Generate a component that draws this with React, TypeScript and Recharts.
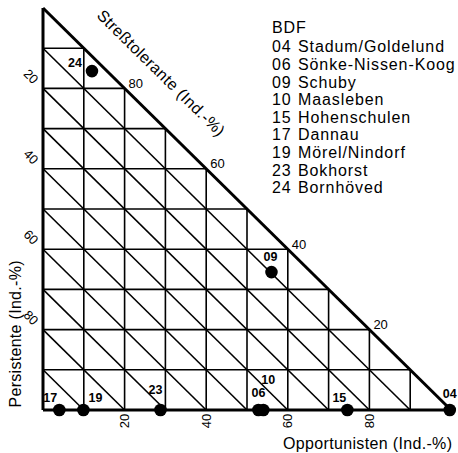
import React from 'react'
import { ScatterChart, Scatter, XAxis, YAxis, ReferenceLine, ReferenceDot } from 'recharts'

// Dreiecksdiagramm: x = Opportunisten, y = Streßtolerante, Rest = Persistente
const gridSteps = [10, 20, 30, 40, 50, 60, 70, 80, 90]
const opportunistTicks = [20, 40, 60, 80]
const persistentTicks = [20, 40, 60, 80]
const stressTicks = [80, 60, 40, 20]

const siteIds = ['04', '06', '09', '10', '15', '17', '19', '23', '24']
const siteNames = [
  'Stadum/Goldelund',
  'Sönke-Nissen-Koog',
  'Schuby',
  'Maasleben',
  'Hohenschulen',
  'Dannau',
  'Mörel/Nindorf',
  'Bokhorst',
  'Bornhöved',
]
const opportunisten = [99.7, 52.8, 56, 54, 74.6, 4, 9.9, 28.8, 12]
const stresstolerante = [0, 0, 34.3, 0, 0, 0, 0, 0, 84.3]

// where each site number sits relative to its dot
const labelOffsets: Record<string, [number, number]> = {
  '04': [0, -16],
  '06': [0, -17],
  '09': [-1, -15],
  '10': [5, -30],
  '15': [-8, -12],
  '17': [-9, -12],
  '19': [12, -12],
  '23': [-5, -20],
  '24': [-17, -8],
}

const points = siteIds.map((id, i) => ({
  id,
  opp: opportunisten[i],
  stress: stresstolerante[i],
}))

const FONT = '"Liberation Sans", Arial, Helvetica, sans-serif'

const SiteDot = (props: any) => {
  const { cx, cy, payload } = props
  const [dx, dy] = labelOffsets[payload.id] ?? [0, -15]
  return (
    <g>
      <circle cx={cx} cy={cy} r={6.3} fill="#000" />
      <text
        x={cx + dx}
        y={cy + dy}
        textAnchor="middle"
        dominantBaseline="central"
        fontFamily={FONT}
        fontSize={12.5}
        fontWeight="bold"
        fill="#000"
      >
        {payload.id}
      </text>
    </g>
  )
}

const BottomTick = (props: any) => {
  const { x, payload } = props
  const cy = 421
  return (
    <text
      x={x}
      y={cy}
      transform={`rotate(-90, ${x}, ${cy})`}
      textAnchor="middle"
      dominantBaseline="central"
      fontFamily={FONT}
      fontSize={13}
      fill="#000"
    >
      {payload.value}
    </text>
  )
}

const LeftTick = (props: any) => {
  const { y, payload } = props
  const cx = 31
  const cy = y - 12
  return (
    <text
      x={cx}
      y={cy}
      transform={`rotate(45, ${cx}, ${cy})`}
      textAnchor="middle"
      dominantBaseline="central"
      fontFamily={FONT}
      fontSize={13}
      fill="#000"
    >
      {100 - payload.value}
    </text>
  )
}

const HypLabel = (text: string) => (props: any) => {
  const vb = props.viewBox || {}
  const x = (vb.x ?? 0) + (vb.width ?? 0) / 2
  const y = (vb.y ?? 0) + (vb.height ?? 0) / 2
  return (
    <text
      x={x + 4}
      y={y - 5}
      dominantBaseline="central"
      fontFamily={FONT}
      fontSize={13}
      fill="#000"
    >
      {text}
    </text>
  )
}

export default function App() {
  const edge = { stroke: '#000', strokeWidth: 3 }
  const grid = { stroke: '#000', strokeWidth: 1.6 }
  return (
    <div style={{ position: 'absolute', left: 0, top: 0, width: 458, height: 453, background: '#fff' }}>
      <ScatterChart width={458} height={453} margin={{ top: 8, right: 7, left: 0, bottom: 13 }}>
        <XAxis
          type="number"
          dataKey="opp"
          domain={[0, 100]}
          ticks={opportunistTicks}
          axisLine={false}
          tickLine={false}
          height={30}
          tick={<BottomTick />}
          interval={0}
        />
        <YAxis
          type="number"
          dataKey="stress"
          domain={[0, 100]}
          ticks={persistentTicks.map((p) => 100 - p)}
          axisLine={false}
          tickLine={false}
          width={43}
          tick={<LeftTick />}
          interval={0}
        />
        {gridSteps.map((k) => (
          <ReferenceLine key={`v${k}`} segment={[{ x: k, y: 0 }, { x: k, y: 100 - k }]} {...grid} />
        ))}
        {gridSteps.map((k) => (
          <ReferenceLine key={`h${k}`} segment={[{ x: 0, y: k }, { x: 100 - k, y: k }]} {...grid} />
        ))}
        {gridSteps.map((p) => (
          <ReferenceLine key={`d${p}`} segment={[{ x: 0, y: 100 - p }, { x: 100 - p, y: 0 }]} {...grid} />
        ))}
        <ReferenceLine segment={[{ x: 0, y: 0 }, { x: 100, y: 0 }]} {...edge} />
        <ReferenceLine segment={[{ x: 0, y: 0 }, { x: 0, y: 100 }]} {...edge} />
        <ReferenceLine segment={[{ x: 0, y: 100 }, { x: 100, y: 0 }]} {...edge} />
        {stressTicks.map((s) => (
          <ReferenceDot
            key={`s${s}`}
            x={100 - s}
            y={s}
            r={0}
            fill="none"
            stroke="none"
            label={HypLabel(String(s))}
          />
        ))}
        <Scatter data={points} dataKey="stress" isAnimationActive={false} shape={<SiteDot />} />
      </ScatterChart>
      <svg
        width={458}
        height={453}
        style={{ position: 'absolute', left: 0, top: 0, pointerEvents: 'none' }}
        fontFamily={FONT}
      >
        <text
          x={161}
          y={73}
          transform="rotate(44.6, 161, 73)"
          textAnchor="middle"
          dominantBaseline="central"
          fontSize={16}
          textLength={172}
          lengthAdjust="spacing"
        >
          Streßtolerante (Ind.-%)
        </text>
        <text
          x={15}
          y={334}
          transform="rotate(-90, 15, 334)"
          textAnchor="middle"
          dominantBaseline="central"
          fontSize={16}
          textLength={147}
          lengthAdjust="spacing"
        >
          Persistente (Ind.-%)
        </text>
        <text x={283} y={449} fontSize={16} textLength={169} lengthAdjust="spacing">
          Opportunisten (Ind.-%)
        </text>
        <text x={272} y={33} fontSize={16} letterSpacing={0.9}>
          BDF
        </text>
        {siteIds.map((id, i) => (
          <g key={id}>
            <text x={272} y={52.3 + i * 17.6} fontSize={16} letterSpacing={0.9}>
              {id}
            </text>
            <text x={298} y={52.3 + i * 17.6} fontSize={16} letterSpacing={0.9}>
              {siteNames[i]}
            </text>
          </g>
        ))}
      </svg>
    </div>
  )
}
